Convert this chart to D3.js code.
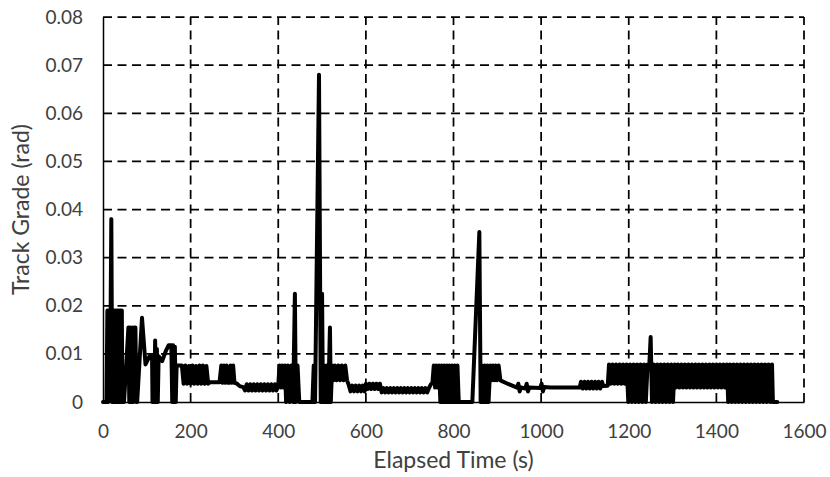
<!DOCTYPE html>
<html>
<head>
<meta charset="utf-8">
<script src="https://cdn.jsdelivr.net/npm/d3@7"></script>
<style>
  html, body { margin: 0; padding: 0; background: #fff; }
  svg { display: block; }
  text { font-family: Lato, "Open Sans", sans-serif; }
</style>
</head>
<body>
<svg id="chart" width="830" height="477"></svg>
<script>
// ---- data ----
const xTicks = [0, 200, 400, 600, 800, 1000, 1200, 1400, 1600];
const yTicks = [0, 0.01, 0.02, 0.03, 0.04, 0.05, 0.06, 0.07, 0.08];
const xTitle = "Elapsed Time (s)";
const yTitle = "Track Grade (rad)";

// [elapsed time (s), track grade (rad)]
const startSamples = [
  [0,0],[8,0],[10,0.019],[12,0],[14,0.019],[16,0.002],[19,0.038],[21,0],[23,0.019],[25,0],[27,0.019],[29,0],[31,0.019],[33,0],[35,0.019],[37,0],[39,0.019],[41,0],[43,0.019],[44,0],
  [48,0],[58,0.0155],[60,0],[62,0.0155],[64,0],[67,0.0155],[69,0],[72,0.0155],[74,0.0155],[76,0],[78,0],
  [89,0.0175],[97,0.0078],[106,0.0095],[112,0.0095],[113,0],[115,0.0095],[117,0],[119,0.0128],[121,0],[123,0.011],[125,0],[127,0.0095],[135,0.0085],[143,0.0105],[150,0.0118],[156,0.0118],[158,0],[160,0.0118],[162,0],[164,0.0115],[166,0],[168,0.0076],[176,0.0076],
  [180,0.0076],[184,0.0038],[188,0.0076],[192,0.0038],[196,0.0075],[200,0.0038],[204,0.0076],[208,0.0038],[212,0.0075],[216,0.0038],[220,0.0076],[224,0.0038],[228,0.0076],[232,0.0038],[236,0.0075],[240,0.0038],
  [244,0.0041],[266,0.0041],[270,0.0076],[273,0.004],[276,0.0076],[279,0.004],[282,0.0076],[285,0.004],[289,0.004],[291,0.0076],[294,0.004],[297,0.0076],[300,0.004],[306,0.0038],[312,0.0033],[320,0.0031],
  [324,0.0024],[328,0.0037],[332,0.0024],[336,0.0037],[340,0.0024],[344,0.0037],[348,0.0024],[352,0.0037],[356,0.0024],[360,0.0037],[364,0.0024],[368,0.0037],[372,0.0024],[376,0.0037],[380,0.0024],[384,0.0037],[388,0.0024],[392,0.0037],[396,0.0024],[400,0.0035]
];
const midSamples = [
  [403,0.0076],[406,0.003],[409,0.0076],[412,0.003],[415,0.0076],[418,0],[422,0.0076],[426,0],[430,0.0076],[434,0],[438,0.0225],[440,0],[444,0.0076],[448,0],[450,0],[478,0],[481,0.0076],[484,0],[493,0.068],[497,0],[500,0.0225],[502,0],[505,0.0076],[508,0],[511,0.0076],[514,0],[518,0.0155],[520,0],[523,0.0076],
  [526,0.0045],[529,0.0076],[533,0.0045],[537,0.0076],[541,0.0045],[545,0.0076],[549,0.0045],[553,0.0076],[557,0.0045],
  [561,0.0035],[565,0.0022],[569,0.0034],[573,0.0022],[577,0.0034],[581,0.0022],[585,0.0034],[589,0.0022],[593,0.0034],[597,0.0022],
  [600,0.0038],[604,0.0027],[608,0.0038],[612,0.0027],[616,0.0038],[620,0.0027],[624,0.0038],[628,0.0027],[632,0.0038],
  [636,0.002],[640,0.0029],[644,0.002],[648,0.0029],[652,0.002],[656,0.0029],[660,0.002],[664,0.0029],[668,0.002],[672,0.0029],[676,0.002],[680,0.0029],[684,0.002],[688,0.0029],[692,0.002],[696,0.0029],[700,0.002],[704,0.0029],[708,0.002],[712,0.0029],[716,0.002],[720,0.0029],[724,0.002],[728,0.0029],[732,0.002],[736,0.0029],[740,0.002],[744,0.0029],
  [748,0.0036],[752,0.004],[755,0.0076],[758,0.003],[761,0.0076],[764,0.003],[767,0.0076],[770,0],[773,0.0076],[776,0],[779,0.0076],[782,0],[785,0.0076],[788,0],[791,0.0076],[794,0],[797,0.0076],[800,0],[803,0.0076],[806,0],[809,0.0076],[812,0],[843,0],[859,0.0353],[862,0],[865,0.0076],[868,0],[871,0.0076],[874,0],[877,0.0076],[880,0],[884,0.0076],
  [887,0.0045],[890,0.0076],[893,0.0045],[896,0.0076],[899,0.0045],[903,0.0076],[907,0.0045],[926,0.0037],[945,0.003],[948,0.0038],[951,0.0022],[954,0.003],[964,0.0028],[967,0.0038],[970,0.0022],[973,0.003],[998,0.0029],[1001,0.0038],[1004,0.0022],[1007,0.0031]
];
const endSamples = [
  [1021,0.003],[1088,0.003],[1091,0.0042],[1095,0.0028],[1099,0.0042],[1103,0.0028],[1107,0.0042],[1111,0.0028],[1115,0.0042],[1119,0.0028],[1123,0.0042],[1127,0.0028],[1131,0.0042],[1135,0.0028],[1139,0.0042],[1142,0.0033],[1152,0.0034],
  [1155,0.0078],[1159,0.0038],[1163,0.0078],[1167,0.0038],[1171,0.0078],[1175,0.0038],[1179,0.0078],[1183,0.0038],[1187,0.0078],[1191,0.0038],[1195,0.0078],
  [1199,0],[1203,0.0078],[1207,0],[1211,0.0078],[1215,0],[1219,0.0078],[1223,0],[1227,0.0078],[1231,0],[1235,0.0078],[1239,0],[1243,0.0078],[1247,0.0078],[1250,0.0135],[1253,0],[1257,0.0078],[1261,0],[1265,0.0078],[1269,0],[1273,0.0078],[1277,0],[1281,0.0078],[1285,0],[1289,0.0078],[1293,0],[1297,0.0078],[1301,0],[1305,0.0078],[1308,0.003],
  [1312,0.0078],[1316,0.003],[1320,0.0078],[1324,0.003],[1328,0.0078],[1332,0.003],[1336,0.0078],[1340,0.003],[1344,0.0078],[1348,0.003],[1352,0.0078],[1356,0.003],[1360,0.0078],[1364,0.003],[1368,0.0078],[1372,0.003],[1376,0.0078],[1380,0.003],[1384,0.0078],[1388,0.003],[1392,0.0078],[1396,0.003],[1400,0.0078],[1404,0.003],[1408,0.0078],[1412,0.003],[1416,0.0078],[1420,0.003],[1424,0.0078],
  [1427,0],[1431,0.0078],[1435,0],[1439,0.0078],[1443,0],[1447,0.0078],[1451,0],[1455,0.0078],[1459,0],[1463,0.0078],[1467,0],[1471,0.0078],[1475,0],[1479,0.0078],[1483,0],[1487,0.0078],[1491,0],[1495,0.0078],[1499,0],[1503,0.0078],[1507,0],[1511,0.0078],[1515,0],[1519,0.0078],[1523,0],[1527,0.0078],[1529,0],[1539,0]
];

// ---- layout ----
const plot = { left: 103, right: 804, top: 17, bottom: 402 };

const svg = d3.select("#chart");
const x = d3.scaleLinear().domain([0, 1600]).range([plot.left, plot.right]);
const y = d3.scaleLinear().domain([0, 0.08]).range([plot.bottom, plot.top]);

// gridlines (dashed)
const grid = svg.append("g").attr("stroke", "#000").attr("stroke-width", 1.75).attr("stroke-dasharray", "9,5.5");
grid.selectAll(".hg").data(yTicks.filter(d => d > 0)).join("line")
  .attr("x1", plot.left).attr("x2", plot.right)
  .attr("y1", d => y(d)).attr("y2", d => y(d));
grid.selectAll(".vg").data(xTicks.filter(d => d > 0)).join("line")
  .attr("y1", plot.bottom).attr("y2", plot.top)
  .attr("x1", d => x(d)).attr("x2", d => x(d));

// data line
const samples = startSamples.concat(midSamples, endSamples);
const line = d3.line().x(d => x(d[0])).y(d => y(d[1]));
svg.append("path")
  .datum(samples)
  .attr("d", line)
  .attr("fill", "none")
  .attr("stroke", "#000")
  .attr("stroke-width", 4)
  .attr("stroke-linejoin", "round")
  .attr("stroke-linecap", "round");

// axes
const fmtY = d => d === 0 ? "0" : d.toFixed(2);
const yAxis = svg.append("g")
  .attr("transform", `translate(${plot.left},0)`)
  .call(d3.axisLeft(y).tickValues(yTicks).tickSize(0).tickPadding(20).tickFormat(fmtY));
const xAxis = svg.append("g")
  .attr("transform", `translate(0,${plot.bottom})`)
  .call(d3.axisBottom(x).tickValues(xTicks).tickSize(0).tickPadding(23).tickFormat(d3.format("d")));

[yAxis, xAxis].forEach(g => {
  g.select(".domain").attr("stroke", "#000").attr("stroke-width", 1.5);
  g.selectAll("text").attr("font-size", 19).attr("fill", "#404040")
    .style("font-family", "Lato, 'Open Sans', sans-serif");
});

// titles
svg.append("text")
  .attr("x", (plot.left + plot.right) / 2).attr("y", 468)
  .attr("text-anchor", "middle")
  .attr("font-size", 23).attr("fill", "#404040")
  .text(xTitle);
svg.append("text")
  .attr("transform", `translate(29,${(plot.top + plot.bottom) / 2}) rotate(-90)`)
  .attr("text-anchor", "middle")
  .attr("font-size", 23).attr("fill", "#404040")
  .text(yTitle);
</script>
</body>
</html>
